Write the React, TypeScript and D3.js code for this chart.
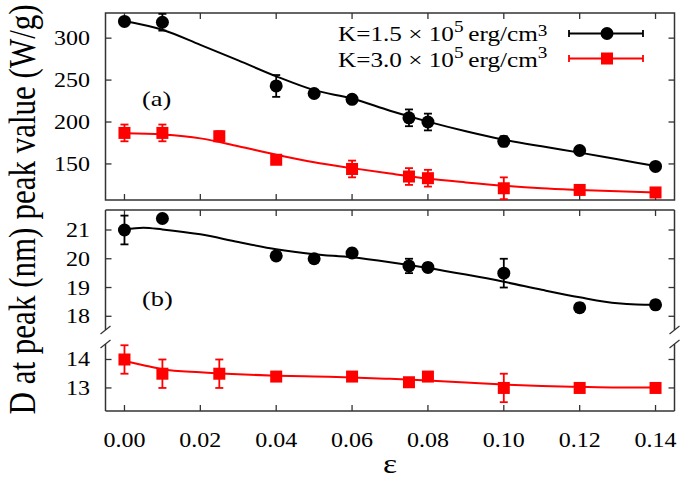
import React from "react";
import * as d3 from "d3";

// ---------- data ----------
const EPS_K15 = [0.0, 0.01, 0.04, 0.05, 0.06, 0.075, 0.08, 0.1, 0.12, 0.14];
const PEAK_K15 = [320, 319, 243, 234, 227, 205, 200, 177, 166, 147];
const PEAK_K15_ERR = [3, 10, 13, 3, 3, 10, 10, 6, 3, 3];

const EPS_K30 = [0.0, 0.01, 0.025, 0.04, 0.06, 0.075, 0.08, 0.1, 0.12, 0.14];
const PEAK_K30 = [187, 187, 183, 155, 144, 135, 133, 121, 119, 116];
const PEAK_K30_ERR = [10, 10, 6, 5, 10, 10, 10, 13, 4, 3];

const D_K15 = [21.0, 21.4, 20.1, 20.0, 20.2, 19.75, 19.7, 19.5, 18.3, 18.4];
const D_K15_ERR = [0.5, 0.1, 0.1, 0.1, 0.15, 0.25, 0.15, 0.5, 0.15, 0.15];
const D_K30 = [14.0, 13.5, 13.5, 13.4, 13.4, 13.2, 13.4, 13.0, 13.0, 13.0];
const D_K30_ERR = [0.5, 0.5, 0.5, 0.1, 0.1, 0.1, 0.1, 0.5, 0.1, 0.1];

// fitted curves
const FIT_EPS = [0.0, 0.01, 0.02, 0.03, 0.04, 0.05, 0.06, 0.07, 0.08, 0.09, 0.1, 0.11, 0.12, 0.13, 0.14];
const FIT_PEAK_K15 = [320.5, 310, 292, 273.5, 254.5, 238, 228, 213.5, 200.5, 189, 179, 171, 163.5, 155.5, 147.5];
const FIT_PEAK_K30 = [186.5, 185, 180.5, 171, 161, 152, 145, 138.5, 132.5, 128, 124, 121, 119, 117.3, 116];
const FIT_D_EPS = [0.0, 0.005, 0.01, 0.02, 0.03, 0.04, 0.05, 0.06, 0.07, 0.08, 0.09, 0.1, 0.11, 0.12, 0.13, 0.135, 0.14];
const FIT_D_K15 = [21.02, 21.08, 21.02, 20.85, 20.58, 20.33, 20.16, 20.05, 19.88, 19.68, 19.45, 19.2, 18.92, 18.66, 18.45, 18.41, 18.4];
const FIT_D_K30 = [13.95, 13.8, 13.66, 13.55, 13.48, 13.43, 13.4, 13.37, 13.32, 13.26, 13.19, 13.12, 13.07, 13.04, 13.02, 13.02, 13.02];

const X_TICKS = [0, 0.02, 0.04, 0.06, 0.08, 0.1, 0.12, 0.14];
const TOP_TICKS = [150, 200, 250, 300];
const D_UP_TICKS = [18, 19, 20, 21];
const D_LO_TICKS = [13, 14];

const LEGEND = ["1.5", "3.0"];

// ---------- layout ----------
const W = 686;
const H = 480;
const L = 105.5;
const R = 674.5;
const TOP1 = 13;
const BOT1 = 200;
const TOP2 = 210;
const BOT2 = 411;
const BRK = 337;
const SX = 1.2;
const FONT = "'Liberation Serif', 'Times New Roman', serif";
const RED = "#ff0000";
const FRAME = "#333";

const x = d3.scaleLinear().domain([-0.005, 0.145]).range([L, R]);
const yTop = d3.scaleLinear().domain([107, 330]).range([BOT1, TOP1]);
const yUp = d3.scaleLinear().domain([17.28, 21.695]).range([BRK, TOP2]);
const yLo = d3.scaleLinear().domain([12.19, 14.79]).range([BOT2, BRK]);

function T({ x, y, size = 20, anchor = "start", rot = false, children }: any) {
  return (
    <text
      transform={`translate(${x},${y}) scale(${SX},1)${rot ? " rotate(-90)" : ""}`}
      fontFamily={FONT}
      fontSize={size}
      textAnchor={anchor}
      fill="#000"
    >
      {children}
    </text>
  );
}

function Series({ xs, ys, es, yS, color, shape }: any) {
  return (
    <g>
      {xs.map((e: number, i: number) => {
        const cx = x(e);
        const cy = yS(ys[i]);
        const y1 = yS(ys[i] - es[i]);
        const y2 = yS(ys[i] + es[i]);
        return (
          <g key={i}>
            <line x1={cx} x2={cx} y1={y1} y2={y2} stroke={color} strokeWidth={1.8} />
            <line x1={cx - 4} x2={cx + 4} y1={y1} y2={y1} stroke={color} strokeWidth={1.8} />
            <line x1={cx - 4} x2={cx + 4} y1={y2} y2={y2} stroke={color} strokeWidth={1.8} />
            {shape === "circle" ? (
              <circle cx={cx} cy={cy} r={6.5} fill={color} />
            ) : (
              <rect x={cx - 6} y={cy - 6} width={12} height={12} fill={color} />
            )}
          </g>
        );
      })}
    </g>
  );
}

function Fit({ xs, ys, yS, color }: any) {
  const gen = d3
    .line<number>()
    .x((_, i) => x(xs[i]))
    .y((v) => yS(v))
    .curve(d3.curveMonotoneX);
  return <path d={gen(ys) || ""} fill="none" stroke={color} strokeWidth={2} />;
}

export default function App() {
  const fmt = d3.format(".2f");
  const tl = 6;
  return (
    <svg width={W} height={H} style={{ position: "absolute", left: 0, top: 0, background: "#fff" }}>
      <rect width={W} height={H} fill="#fff" />
      {/* ---- top panel frame ---- */}
      <rect x={L} y={TOP1} width={R - L} height={BOT1 - TOP1} fill="none" stroke={FRAME} strokeWidth={1.5} />
      {X_TICKS.map((t) => (
        <g key={"xt1" + t}>
          <line x1={x(t)} x2={x(t)} y1={BOT1} y2={BOT1 - tl} stroke={FRAME} strokeWidth={1.3} />
          <line x1={x(t)} x2={x(t)} y1={TOP1} y2={TOP1 + tl} stroke={FRAME} strokeWidth={1.3} />
        </g>
      ))}
      {TOP_TICKS.map((t) => (
        <g key={"yt1" + t}>
          <line x1={L} x2={L + tl} y1={yTop(t)} y2={yTop(t)} stroke={FRAME} strokeWidth={1.3} />
          <line x1={R} x2={R - tl} y1={yTop(t)} y2={yTop(t)} stroke={FRAME} strokeWidth={1.3} />
          <T x={90} y={yTop(t) + 7} anchor="end">{t}</T>
        </g>
      ))}

      {/* ---- bottom panel frame ---- */}
      <line x1={L} x2={R} y1={TOP2} y2={TOP2} stroke={FRAME} strokeWidth={1.5} />
      <line x1={L} x2={R} y1={BOT2} y2={BOT2} stroke={FRAME} strokeWidth={1.5} />
      {[L, R].map((xx) => (
        <g key={"side" + xx}>
          <line x1={xx} x2={xx} y1={TOP2} y2={BRK - 7} stroke={FRAME} strokeWidth={1.5} />
          <line x1={xx} x2={xx} y1={BRK + 7} y2={BOT2} stroke={FRAME} strokeWidth={1.5} />
          <line x1={xx - 5} x2={xx + 5} y1={BRK - 3} y2={BRK - 11} stroke={FRAME} strokeWidth={1.3} />
          <line x1={xx - 5} x2={xx + 5} y1={BRK + 11} y2={BRK + 3} stroke={FRAME} strokeWidth={1.3} />
        </g>
      ))}
      {X_TICKS.map((t) => (
        <g key={"xt2" + t}>
          <line x1={x(t)} x2={x(t)} y1={BOT2} y2={BOT2 - tl} stroke={FRAME} strokeWidth={1.3} />
          <line x1={x(t)} x2={x(t)} y1={TOP2} y2={TOP2 + tl} stroke={FRAME} strokeWidth={1.3} />
          <T x={x(t)} y={447} anchor="middle">{fmt(t)}</T>
        </g>
      ))}
      {D_UP_TICKS.map((t) => (
        <g key={"yu" + t}>
          <line x1={L} x2={L + tl} y1={yUp(t)} y2={yUp(t)} stroke={FRAME} strokeWidth={1.3} />
          <line x1={R} x2={R - tl} y1={yUp(t)} y2={yUp(t)} stroke={FRAME} strokeWidth={1.3} />
          <T x={90} y={yUp(t) + 7} anchor="end">{t}</T>
        </g>
      ))}
      {D_LO_TICKS.map((t) => (
        <g key={"yl" + t}>
          <line x1={L} x2={L + tl} y1={yLo(t)} y2={yLo(t)} stroke={FRAME} strokeWidth={1.3} />
          <line x1={R} x2={R - tl} y1={yLo(t)} y2={yLo(t)} stroke={FRAME} strokeWidth={1.3} />
          <T x={90} y={yLo(t) + 7} anchor="end">{t}</T>
        </g>
      ))}

      {/* ---- fits ---- */}
      <Fit xs={FIT_EPS} ys={FIT_PEAK_K15} yS={yTop} color="#000" />
      <Fit xs={FIT_EPS} ys={FIT_PEAK_K30} yS={yTop} color={RED} />
      <Fit xs={FIT_D_EPS} ys={FIT_D_K15} yS={yUp} color="#000" />
      <Fit xs={FIT_D_EPS} ys={FIT_D_K30} yS={yLo} color={RED} />

      {/* ---- data ---- */}
      <Series xs={EPS_K15} ys={PEAK_K15} es={PEAK_K15_ERR} yS={yTop} color="#000" shape="circle" />
      <Series xs={EPS_K30} ys={PEAK_K30} es={PEAK_K30_ERR} yS={yTop} color={RED} shape="square" />
      <Series xs={EPS_K15} ys={D_K15} es={D_K15_ERR} yS={yUp} color="#000" shape="circle" />
      <Series xs={EPS_K30} ys={D_K30} es={D_K30_ERR} yS={yLo} color={RED} shape="square" />

      {/* ---- panel labels ---- */}
      <T x={142} y={106} size={22}>(a)</T>
      <T x={142} y={306} size={22}>(b)</T>

      {/* ---- legend ---- */}
      {LEGEND.map((k, i) => {
        const by = 41 + i * 26;
        const sy = 33.5 + i * 25;
        const col = i === 0 ? "#000" : RED;
        return (
          <g key={"lg" + i}>
            <text
              transform={`translate(338,${by}) scale(${SX},1)`}
              fontFamily={FONT}
              fontSize={21}
              fill="#000"
            >
              {`K=${k} × 10`}
              <tspan fontSize={16} dy={-9}>5</tspan>
              <tspan fontSize={21} dy={9} dx={4}>{"erg/cm"}</tspan>
              <tspan fontSize={16} dy={i === 0 ? -5 : -9}>3</tspan>
            </text>
            <line x1={569} x2={643} y1={sy} y2={sy} stroke={col} strokeWidth={1.8} />
            <line x1={569} x2={569} y1={sy - 3.5} y2={sy + 3.5} stroke={col} strokeWidth={1.8} />
            <line x1={643} x2={643} y1={sy - 3.5} y2={sy + 3.5} stroke={col} strokeWidth={1.8} />
            {i === 0 ? (
              <circle cx={607} cy={sy} r={6.5} fill={col} />
            ) : (
              <rect x={601} y={sy - 6} width={12} height={12} fill={col} />
            )}
          </g>
        );
      })}

      {/* ---- axis titles ---- */}
      <T x={35} y={112} size={31} anchor="middle" rot>peak value (W/g)</T>
      <T x={35} y={321} size={31} anchor="middle" rot>D at peak (nm)</T>
      <T x={390} y={473} size={28} anchor="middle">ε</T>
    </svg>
  );
}
